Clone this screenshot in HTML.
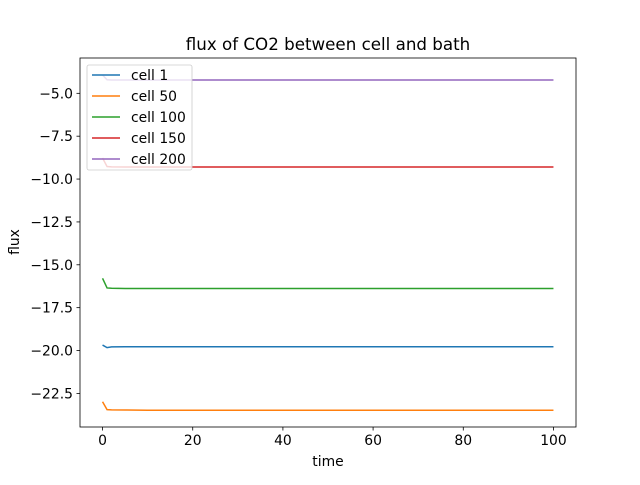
<!DOCTYPE html>
<html><head><meta charset="utf-8"><style>
body{margin:0;background:#fff}
svg text{font-family:"DejaVu Sans","Liberation Sans",sans-serif;fill:#000}
</style></head><body>
<svg width="640" height="480" viewBox="0 0 640 480">
<rect width="640" height="480" fill="#fff"/>
<g id="plot"></g>
</svg>
<script>
const times=[0,1,2,5,10,20,40,60,80,100];
const cell1=[-19.68,-19.83,-19.79,-19.78,-19.78,-19.78,-19.78,-19.78,-19.78,-19.78];
const cell50=[-22.99,-23.45,-23.46,-23.47,-23.48,-23.48,-23.48,-23.48,-23.48,-23.48];
const cell100=[-15.79,-16.35,-16.37,-16.38,-16.38,-16.38,-16.38,-16.38,-16.38,-16.38];
const cell150=[-8.77,-9.27,-9.29,-9.3,-9.3,-9.3,-9.3,-9.3,-9.3,-9.3];
const cell200=[-3.93,-4.21,-4.22,-4.22,-4.22,-4.22,-4.22,-4.22,-4.22,-4.22];
const seriesNames=["cell 1","cell 50","cell 100","cell 150","cell 200"];
const xTicks=[0,20,40,60,80,100];
const yTicks=[-5.0,-7.5,-10.0,-12.5,-15.0,-17.5,-20.0,-22.5];
const colors=["#1f77b4","#ff7f0e","#2ca02c","#d62728","#9467bd"];
const L=80,R=576,T=58,B=427;
const xMin=-5,xMax=105,yMin=-24.46,yMax=-2.94;
const X=v=>L+(v-xMin)/(xMax-xMin)*(R-L);
const Y=v=>B-(v-yMin)/(yMax-yMin)*(B-T);
const NS="http://www.w3.org/2000/svg";
const g=document.getElementById('plot');
function mk(t,a,p){const e=document.createElementNS(NS,t);for(const k in a)e.setAttribute(k,a[k]);(p||g).appendChild(e);return e;}
const series=[cell1,cell50,cell100,cell150,cell200];
series.forEach((s,i)=>{
 const pl=mk('polyline',{points:s.map((v,j)=>X(times[j])+','+Y(v)).join(' '),fill:'none',stroke:colors[i],'stroke-width':1.5});
 
 
});
const fr=mk('rect',{x:L,y:T,width:R-L,height:B-T,fill:'none',stroke:'#000','stroke-width':0.8});


xTicks.forEach(t=>{
 mk('line',{x1:X(t),x2:X(t),y1:B,y2:B+3.5,stroke:'#000','stroke-width':0.8});
 const tx=mk('text',{x:X(t),y:B+18,'text-anchor':'middle','font-size':13.9});tx.textContent=t;
 
 
});
yTicks.forEach(t=>{
 mk('line',{x1:L-3.5,x2:L,y1:Y(t),y2:Y(t),stroke:'#000','stroke-width':0.8});
 const tx=mk('text',{x:L-7,y:Y(t)+5,'text-anchor':'end','font-size':13.9});tx.textContent=t.toFixed(1).replace('-','\u2212');
 
 
});
let t1=mk('text',{x:328,y:50,'text-anchor':'middle','font-size':16.7});t1.textContent='flux of CO2 between cell and bath';


let t2=mk('text',{x:328,y:466,'text-anchor':'middle','font-size':13.9});t2.textContent='time';


let t3=mk('text',{x:0,y:0,'text-anchor':'middle','font-size':13.9,transform:'translate(19,242) rotate(-90)'});t3.textContent='flux';


const lg=mk('g',{});


mk('rect',{x:87,y:65,width:105,height:105,rx:2,fill:'#fff','fill-opacity':0.8,stroke:'#ccc','stroke-width':0.8},lg);
seriesNames.forEach((n,i)=>{
 const yy=75+i*21;
 mk('line',{x1:92,x2:120,y1:yy,y2:yy,stroke:colors[i],'stroke-width':1.5},lg);
 const tx=mk('text',{x:131,y:yy+5,'font-size':13.9},lg);tx.textContent=n;
 
 
});
</script>
</body></html>
